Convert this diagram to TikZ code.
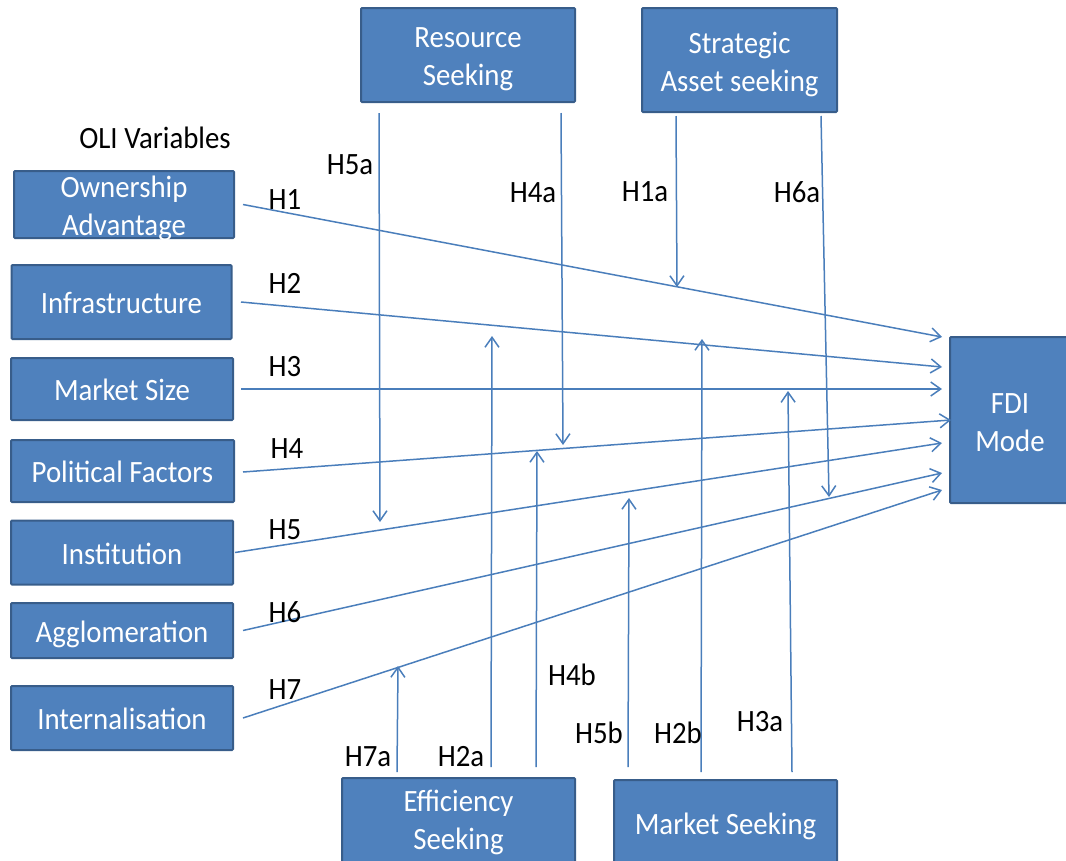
\documentclass[tikz,border=0pt]{standalone}
\usepackage{fontspec}
\setmainfont{Carlito}
\newfontfamily\tallfont[FakeStretch=0.93]{Carlito}
\usetikzlibrary{arrows.meta}
\definecolor{boxfill}{HTML}{4F81BD}
\definecolor{boxline}{HTML}{385D8A}
\definecolor{linkcol}{HTML}{4A7EBB}

\begin{document}
\begin{tikzpicture}[x=1pt,y=-1pt,
  box/.style={draw=boxline, fill=boxfill, line width=2pt, text=white,
    font=\tallfont\fontsize{31}{38}\selectfont, align=center, inner sep=0pt,
    rounded corners=1pt},
  oneline/.style={text height=28pt, text depth=5pt},
  boxtext/.style={font=\tallfont\fontsize{31}{38}\selectfont, text=white,
    align=center, inner sep=0pt},
  link/.style={draw=linkcol, line width=1.5pt,
    -{Straight Barb[length=10pt,width=14pt,line width=1.5pt]}},
  lab/.style={font=\tallfont\fontsize{31}{36}\selectfont, inner sep=0pt}]

\useasboundingbox (0,0) rectangle (1066,860);

% OLI variables (left column)
\node[lab] (oli) at (155,138) {OLI Variables};
\node[box, minimum width=220pt, minimum height=67pt] (own) at (124,204.5) {};
\node[boxtext] (ownt) at (124,208) {Ownership\\Advantage};
\node[box, oneline, minimum width=220pt, minimum height=74pt] (inf) at (121.5,302) {Infrastructure};
\node[box, oneline, minimum width=222pt, minimum height=62pt] (msz) at (122,389) {Market Size};
\node[box, oneline, minimum width=223pt, minimum height=62pt] (pol) at (122.5,471) {Political Factors};
\node[box, oneline, minimum width=222pt, minimum height=64pt] (ins) at (122,552.5) {Institution};
\node[box, oneline, minimum width=222pt, minimum height=55pt] (agg) at (122,630.5) {Agglomeration};
\node[box, oneline, minimum width=222pt, minimum height=64pt] (intl) at (122,718) {Internalisation};

% outcome
\node[box, minimum width=125pt, minimum height=166pt] (fdi) at (1012.5,420) {};
\node[boxtext] (fdit) at (1010,423) {FDI\\Mode};

% motives
\node[box, minimum width=214pt, minimum height=94pt] (rs) at (468,55) {};
\node[boxtext] (rst) at (468,59) {Resource\\Seeking};
\node[box, minimum width=195pt, minimum height=104pt] (sa) at (739.5,60) {};
\node[boxtext] (sat) at (739.5,64) {Strategic\\Asset seeking};
\node[box, minimum width=233pt, minimum height=88pt] (es) at (458.5,822) {Efficiency\\Seeking};
\node[box, oneline, minimum width=223pt, minimum height=86pt] (ms) at (725.5,823) {Market Seeking};

% arrow ends at the FDI box
\coordinate (e1) at (942,337);
\coordinate (e2) at (942,367);
\coordinate (e3) at (942,389);
\coordinate (e4) at (951,420);
\coordinate (e5) at (942,443);
\coordinate (e6) at (942,473);
\coordinate (e7) at (942,490);

\draw[link] ([xshift=8pt]own.east) -- (e1);
\draw[link] ([xshift=8.5pt]inf.east) -- (e2);
\draw[link] ([xshift=7pt]msz.east) -- (e3);
\draw[link] ([xshift=8pt,yshift=-1pt]pol.east) -- (e4);
\draw[link] ([xshift=1pt]ins.east) -- (e5);
\draw[link] ([xshift=9pt]agg.east) -- (e6);
\draw[link] ([xshift=9pt]intl.east) -- (e7);

% moderating effects from above
\coordinate (m5a) at (380,522);
\coordinate (m4a) at (563,445);
\coordinate (m1a) at (677,287);
\coordinate (m6a) at (829,497);
\draw[link] ([shift={(19,10)}]rs.south west) -- (m5a);
\draw[link] ([shift={(201,10)}]rs.south west) -- (m4a);
\draw[link] ([shift={(35,3)}]sa.south west) -- (m1a);
\draw[link] ([shift={(180,3)}]sa.south west) -- (m6a);

% moderating effects from below
\coordinate (m7a) at (398,666);
\coordinate (m2a) at (492,336);
\coordinate (m4b) at (537,451);
\coordinate (m5b) at (629,498);
\coordinate (m2b) at (702,339);
\coordinate (m3a) at (788,391);
\draw[link] ([shift={(56,-5)}]es.north west) -- (m7a);
\draw[link] ([shift={(150,-10)}]es.north west) -- (m2a);
\draw[link] ([shift={(195,-10)}]es.north west) -- (m4b);
\draw[link] ([shift={(15,-12)}]ms.north west) -- (m5b);
\draw[link] ([shift={(88,-7)}]ms.north west) -- (m2b);
\draw[link] ([shift={(179,-7)}]ms.north west) -- (m3a);

% hypothesis labels
\node[lab] (h1) at (285,200) {H1};
\node[lab] (h2) at (285,283) {H2};
\node[lab] (h3) at (285,367) {H3};
\node[lab] (h4) at (287,449) {H4};
\node[lab] (h5) at (285,530) {H5};
\node[lab] (h6) at (285,612) {H6};
\node[lab] (h7) at (285,690) {H7};
\node[lab] (h5a) at (350,165) {H5a};
\node[lab] (h4a) at (533,193) {H4a};
\node[lab] (h1a) at (645,192) {H1a};
\node[lab] (h6a) at (797,192) {H6a};
\node[lab] (h7a) at (368,757) {H7a};
\node[lab] (h2a) at (461,757) {H2a};
\node[lab] (h4b) at (572,675) {H4b};
\node[lab] (h5b) at (599,733) {H5b};
\node[lab] (h2b) at (678,733) {H2b};
\node[lab] (h3a) at (760,722) {H3a};
\end{tikzpicture}
\end{document}
